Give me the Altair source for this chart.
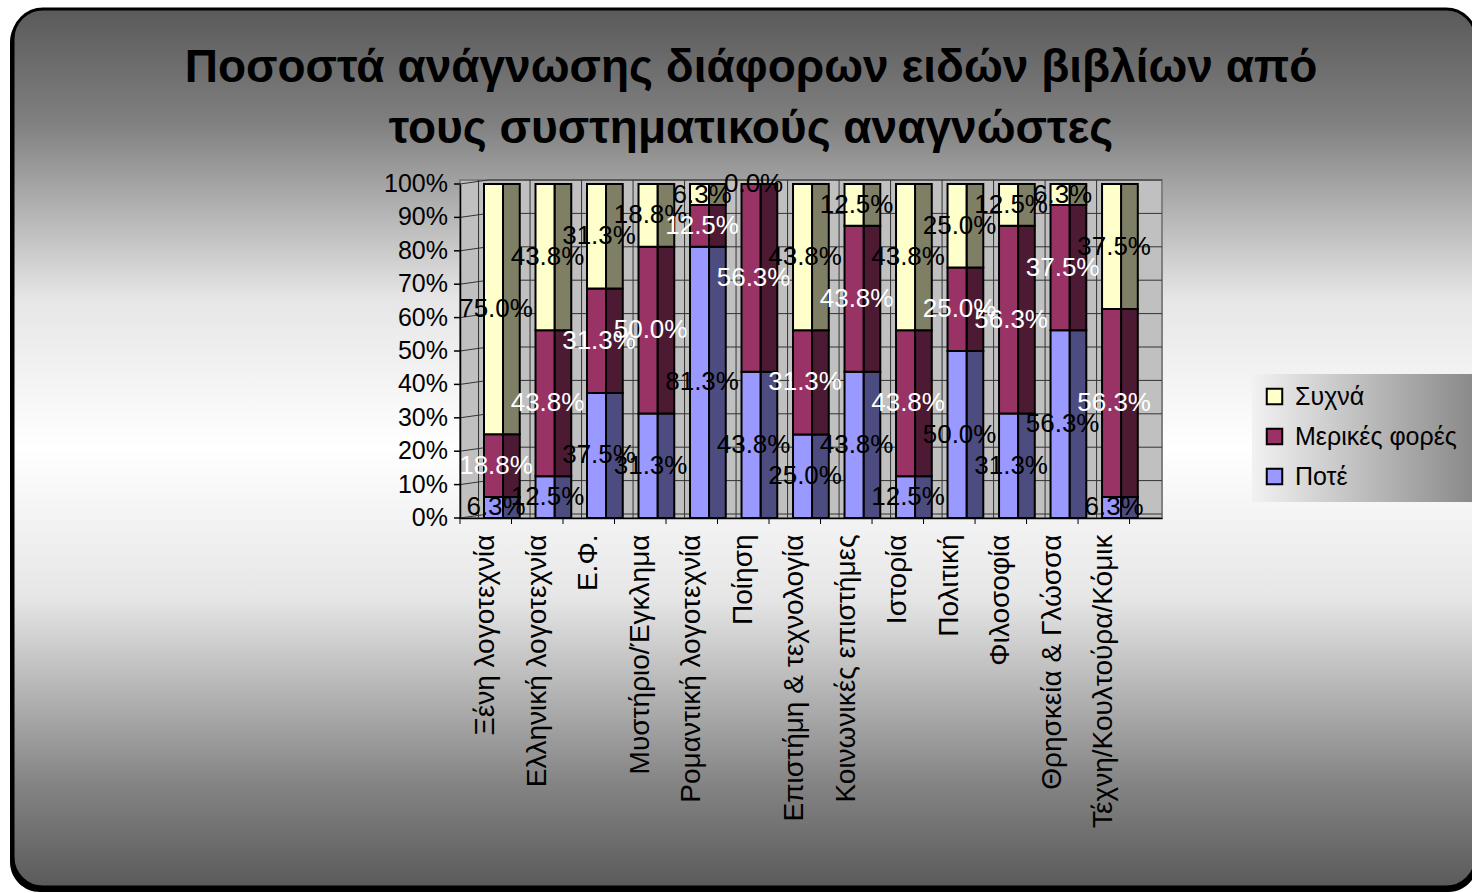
import json
import altair as alt
import pandas as pd

# ---------------- data ----------------
categories = [
    "Ξένη λογοτεχνία", "Ελληνική λογοτεχνία", "Ε.Φ.", "Μυστήριο/Έγκλημα",
    "Ρομαντική λογοτεχνία", "Ποίηση", "Επιστήμη & τεχνολογία",
    "Κοινωνικές επιστήμες", "Ιστορία", "Πολιτική", "Φιλοσοφία",
    "Θρησκεία & Γλώσσα", "Τέχνη/Κουλτούρα/Κόμικ",
]
series_names = ["Ποτέ", "Μερικές φορές", "Συχνά"]
never = [6.3, 12.5, 37.5, 31.3, 81.3, 43.8, 25.0, 43.8, 12.5, 50.0, 31.3, 56.3, 6.3]
sometimes = [18.8, 43.8, 31.3, 50.0, 12.5, 56.3, 31.3, 43.8, 43.8, 25.0, 56.3, 37.5, 56.3]
often = [75.0, 43.8, 31.3, 18.8, 6.3, 0.0, 43.8, 12.5, 43.8, 25.0, 12.5, 6.3, 37.5]
y_ticks = [0, 10, 20, 30, 40, 50, 60, 70, 80, 90, 100]
y_tick_labels = ["0%", "10%", "20%", "30%", "40%", "50%", "60%", "70%", "80%", "90%", "100%"]

# ---------------- styling ----------------
FONT = "Liberation Sans"
front_colors = {"Ποτέ": "#9999FF", "Μερικές φορές": "#993366", "Συχνά": "#FFFFCC"}
side_colors = {"Ποτέ": "#4C4C80", "Μερικές φορές": "#4C1A33", "Συχνά": "#7F7F66"}
label_colors = {"Ποτέ": "black", "Μερικές φορές": "white", "Συχνά": "black"}

W, H = 702, 334
PAD_L, PAD_T = 460, 184
XMAX = 13.63  # category slots incl. back-wall depth

rows = []
for i, cat in enumerate(categories):
    vals = [never[i], sometimes[i], often[i]]
    tot = sum(vals)
    cum = 0.0
    for s, v in zip(series_names, vals):
        rows.append({
            "cat": cat, "series": s, "value": v,
            "y0": cum / tot * 100, "y1": (cum + v) / tot * 100,
            "ymid": (cum + v / 2) / tot * 100,
            "xf0": i + 0.466, "xf1": i + 0.835,
            "xs0": i + 0.835, "xs1": i + 1.16,
            "xl": i + 0.70,
            "label": f"{v:.1f}%",
            "side": side_colors[s], "tcolor": label_colors[s],
        })
        cum += v
df = pd.DataFrame(rows)

grid_df = pd.DataFrame({"v": y_ticks, "lab": y_tick_labels})
vgrid_df = pd.DataFrame({"k": [k + 0.36 for k in range(len(categories))]})
tick_df = pd.DataFrame({"k": list(range(len(categories) + 1))})

xscale = alt.Scale(domain=[0, XMAX], nice=False, zero=False)
yscale = alt.Scale(domain=[0, 100], nice=False)

cat_json = json.dumps(categories, ensure_ascii=False)
x_axis = alt.Axis(
    values=[i + 0.5 for i in range(len(categories))],
    labelExpr=f"{cat_json}[floor(datum.value)]",
    labelAngle=270, labelAlign="right", labelBaseline="middle",
    ticks=False, tickSize=0, labelPadding=16,
    labelFont=FONT, labelFontSize=28, labelColor="black",
    domainColor="black", domainWidth=1.5, grid=False, zindex=1,
    labelOverlap=False, labelLimit=400,
)
y_axis = alt.Axis(
    labels=False, ticks=False, domainColor="black", domainWidth=1.5,
    grid=False, zindex=1,
)

one = alt.Data(values=[{"a": 1}])

# background rounded panel with vertical gradient
bg_grad = alt.LinearGradient(
    gradient="linear", x1=0, x2=0, y1=0, y2=1,
    stops=[
        alt.GradientStop(offset=0.0, color="#5A5A5A"),
        alt.GradientStop(offset=0.13, color="#808080"),
        alt.GradientStop(offset=0.33, color="#E6E6E6"),
        alt.GradientStop(offset=0.5, color="#FFFFFF"),
        alt.GradientStop(offset=0.67, color="#E6E6E6"),
        alt.GradientStop(offset=0.88, color="#858585"),
        alt.GradientStop(offset=1.0, color="#5A5A5A"),
    ],
)
shadow = alt.Chart(one).mark_rect(cornerRadius=30, color="black").encode(
    x=alt.value(12 - PAD_L - 2), x2=alt.value(1478 - PAD_L),
    y=alt.value(8 - PAD_T + 4), y2=alt.value(892 - PAD_T),
)
panel = alt.Chart(one).mark_rect(
    cornerRadius=30, fill=bg_grad, stroke="black", strokeWidth=3
).encode(
    x=alt.value(13 - PAD_L), x2=alt.value(1476 - PAD_L),
    y=alt.value(9 - PAD_T), y2=alt.value(887 - PAD_T),
)

leg_grad = alt.LinearGradient(
    gradient="linear", x1=0, x2=1, y1=0, y2=0,
    stops=[alt.GradientStop(offset=0.0, color="#F2F2F2"),
           alt.GradientStop(offset=1.0, color="#8A8A8A")],
)
legend_bg = alt.Chart(one).mark_rect(fill=leg_grad).encode(
    x=alt.value(1252 - PAD_L), x2=alt.value(1472 - PAD_L),
    y=alt.value(374 - PAD_T), y2=alt.value(502 - PAD_T),
)

# plot walls (carries the axes)
wall = alt.Chart(one).mark_rect(fill="#C0C0C0", stroke="#808080", strokeWidth=2).encode(
    x=alt.datum(0, scale=xscale, axis=x_axis, title=None), x2=alt.datum(XMAX),
    y=alt.datum(101.2, scale=yscale, axis=y_axis, title=None), y2=alt.datum(0),
)

hgrid = alt.Chart(grid_df).mark_rule(color="#333333", strokeWidth=1, yOffset=-4, y2Offset=-4).encode(
    x=alt.datum(0.55, scale=xscale, title=None), x2=alt.datum(XMAX),
    y=alt.Y("v:Q", scale=yscale, title=None),
)
hgrid_slant = alt.Chart(grid_df).mark_rule(color="#333333", strokeWidth=1, y2Offset=-4).encode(
    x=alt.datum(0, scale=xscale, title=None), x2=alt.datum(0.55),
    y=alt.Y("v:Q", scale=yscale, title=None), y2="v:Q",
)
vgrid = alt.Chart(vgrid_df).mark_rule(color="#333333", strokeWidth=1).encode(
    x=alt.X("k:Q", scale=xscale, title=None),
    y=alt.datum(101.2, scale=yscale, title=None), y2=alt.datum(0),
)

# y ticks + labels
yticks = alt.Chart(grid_df).mark_rule(color="black", strokeWidth=1.5).encode(
    x=alt.value(-6), x2=alt.value(0),
    y=alt.Y("v:Q", scale=yscale, title=None),
)
ylabels = alt.Chart(grid_df).mark_text(
    font=FONT, fontSize=25, align="right", baseline="middle", color="black"
).encode(
    x=alt.value(-12),
    y=alt.Y("v:Q", scale=yscale, title=None),
    text="lab:N",
)

xticks = alt.Chart(tick_df).mark_rule(color="black", strokeWidth=1).encode(
    x=alt.X("k:Q", scale=xscale, title=None), y=alt.value(H), y2=alt.value(H + 6),
)

side = alt.Chart(df).mark_bar(stroke="black", strokeWidth=2).encode(
    x=alt.X("xs0:Q", scale=xscale, title=None), x2="xs1:Q",
    y=alt.Y("y1:Q", scale=yscale, title=None), y2="y0:Q",
    fill=alt.Fill("side:N", scale=None),
)

front = alt.Chart(df).mark_bar(stroke="black", strokeWidth=2).encode(
    x=alt.X("xf0:Q", scale=xscale, title=None, axis=x_axis),
    x2="xf1:Q",
    y=alt.Y("y1:Q", scale=yscale, title=None, axis=y_axis),
    y2="y0:Q",
    color=alt.Color(
        "series:N",
        scale=alt.Scale(domain=["Συχνά", "Μερικές φορές", "Ποτέ"],
                        range=[front_colors["Συχνά"], front_colors["Μερικές φορές"], front_colors["Ποτέ"]]),
        legend=alt.Legend(
            orient="none", legendX=1252 - PAD_L + 2, legendY=374 - PAD_T + 2,
            title=None, labelFont=FONT, labelFontSize=25, labelColor="black",
            symbolType="square", symbolSize=240, symbolStrokeColor="black",
            symbolStrokeWidth=2, symbolOpacity=1, rowPadding=14, padding=8,
            labelOffset=8, labelLimit=300,
        ),
    ),
)

labels = alt.Chart(df).mark_text(font=FONT, fontSize=26, align="center", baseline="middle").encode(
    x=alt.X("xl:Q", scale=xscale, title=None),
    y=alt.Y("ymid:Q", scale=yscale, title=None),
    text="label:N",
    fill=alt.Fill("tcolor:N", scale=None),
)

chart = alt.layer(
    shadow, panel, legend_bg, wall, hgrid, hgrid_slant, vgrid, yticks, ylabels,
    xticks, side, front, labels
).properties(
    width=W, height=H,
    padding={"left": PAD_L, "top": PAD_T, "right": 1472 - PAD_L - W, "bottom": 893 - PAD_T - H},
    autosize=alt.AutoSizeParams(type="none"),
    background="white",
    title=alt.TitleParams(
        ["Ποσοστά ανάγνωσης διάφορων ειδών βιβλίων από", "τους συστηματικούς αναγνώστες"],
        font=FONT, fontSize=46, fontWeight="bold", color="black",
        anchor="middle", dx=-60, offset=0, dy=145, lineHeight=61,
    ),
).configure_view(stroke=None).configure_axis(labelOverlap=False)

chart.save("out.html", embed_options={"renderer": "svg", "actions": False})
